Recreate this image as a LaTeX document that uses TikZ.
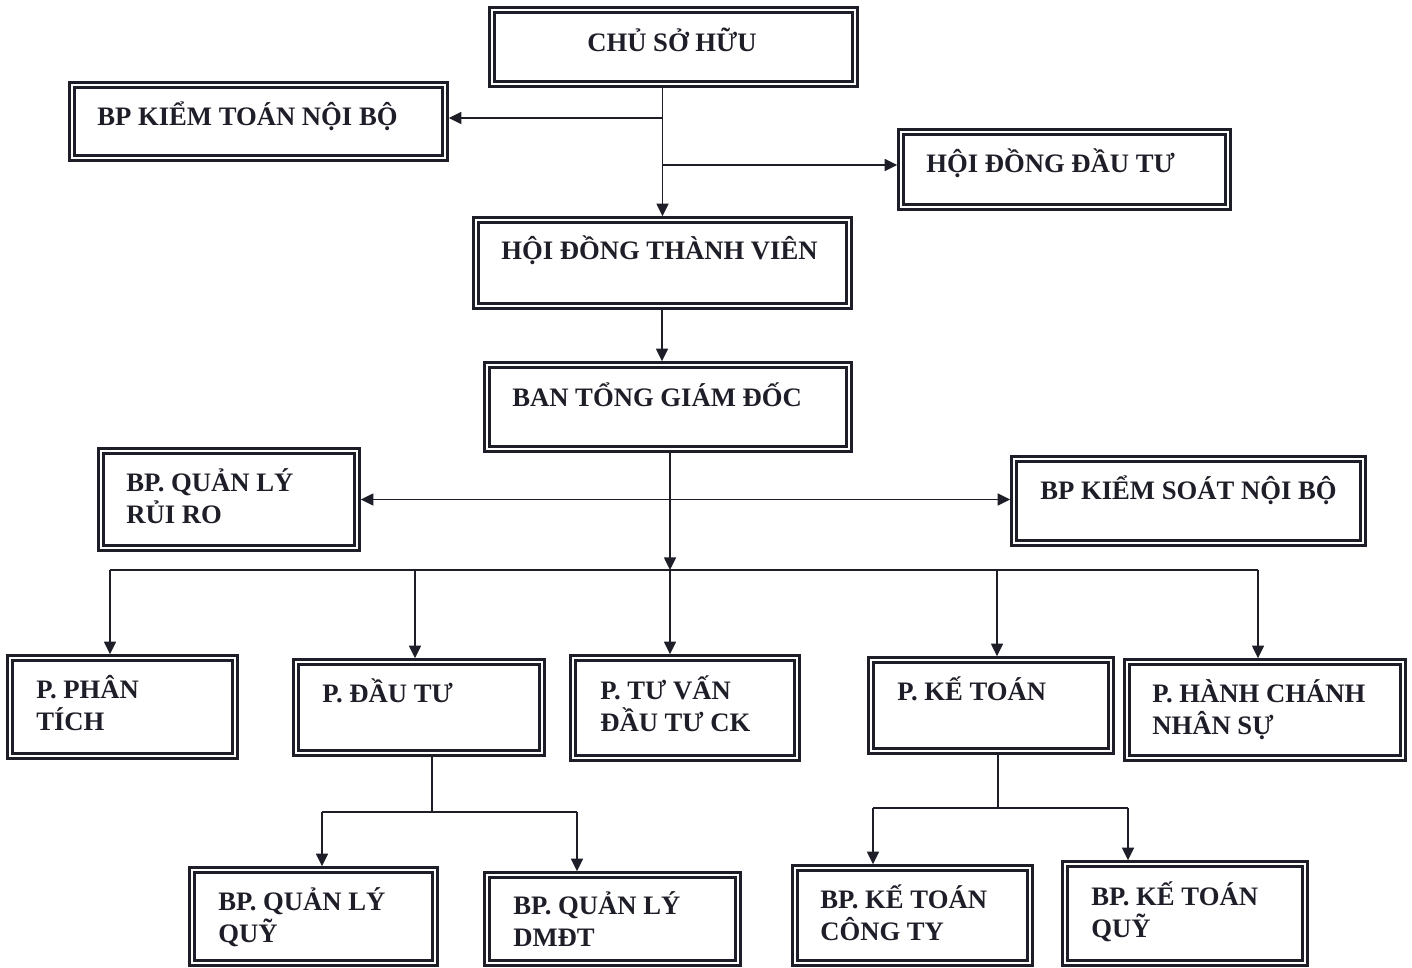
\documentclass[tikz,border=0pt]{standalone}
\usepackage{fontspec}
\setmainfont{Liberation Serif}
\usetikzlibrary{fit,arrows.meta,calc}
\definecolor{ink}{HTML}{1E1E28}
\tikzset{
  box/.style={draw=ink, line width=1.7pt, double=white, double distance=2.2pt, inner sep=0pt, outer sep=2.8pt},
  lbl/.style={text=ink, font=\bfseries\fontsize{20}{23.3}\selectfont, inner sep=0pt, align=left},
  conn/.style={draw=ink, line width=1.1pt},
  arr/.style={conn, -{Triangle[length=9.5pt,width=9pt]}},
  arrb/.style={conn, {Triangle[length=9.5pt,width=9pt]}-{Triangle[length=9.5pt,width=9pt]}}
}
\begin{document}
\begin{tikzpicture}[x=0.75pt,y=-0.75pt]
\useasboundingbox[fill=white] (0,0) rectangle (1412,967);
% boxes
\node[box, fit={(492,10) (855,84)}] (chu) {};
\node[box, fit={(72,85) (445,158)}] (ktnb) {};
\node[box, fit={(901,132) (1228,207)}] (hddt) {};
\node[box, fit={(476,220) (849,306)}] (hdtv) {};
\node[box, fit={(487,365) (849,449)}] (btgd) {};
\node[box, fit={(101,451) (357,548)}] (qlrr) {};
\node[box, fit={(1014,459) (1363,543)}] (ksnb) {};
\node[box, fit={(10,658) (235,756)}] (pt) {};
\node[box, fit={(296,662) (542,753)}] (pdt) {};
\node[box, fit={(573,658) (797,758)}] (tv) {};
\node[box, fit={(871,660) (1111,751)}] (pkt) {};
\node[box, fit={(1127,662) (1403,758)}] (hcns) {};
\node[box, fit={(192,870) (435,963)}] (qlq) {};
\node[box, fit={(487,875) (738,963)}] (dmdt) {};
\node[box, fit={(795,868) (1030,963)}] (ktct) {};
\node[box, fit={(1065,864) (1305,963)}] (ktq) {};
% labels (base anchor = baseline of last line)
\node[lbl, anchor=base] at (672,51) {CHỦ SỞ HỮU};
\node[lbl, anchor=base west] at (97,125) {BP KIỂM TOÁN NỘI BỘ};
\node[lbl, anchor=base west] at (926,172) {HỘI ĐỒNG ĐẦU TƯ};
\node[lbl, anchor=base west] at (501,259) {HỘI ĐỒNG THÀNH VIÊN};
\node[lbl, anchor=base west] at (512,406) {BAN TỔNG GIÁM ĐỐC};
\node[lbl, anchor=base west] at (126,523) {BP. QUẢN LÝ\\RỦI RO};
\node[lbl, anchor=base west] at (1040,499) {BP KIỂM SOÁT NỘI BỘ};
\node[lbl, anchor=base west] at (36,730) {P. PHÂN\\TÍCH};
\node[lbl, anchor=base west] at (322,702) {P. ĐẦU TƯ};
\node[lbl, anchor=base west] at (600,731) {P. TƯ VẤN\\ĐẦU TƯ CK};
\node[lbl, anchor=base west] at (897,700) {P. KẾ TOÁN};
\node[lbl, anchor=base west] at (1152,734) {P. HÀNH CHÁNH\\NHÂN SỰ};
\node[lbl, anchor=base west] at (218,942) {BP. QUẢN LÝ\\QUỸ};
\node[lbl, anchor=base west] at (513,946) {BP. QUẢN LÝ\\DMĐT};
\node[lbl, anchor=base west] at (820,940) {BP. KẾ TOÁN\\CÔNG TY};
\node[lbl, anchor=base west] at (1091,937) {BP. KẾ TOÁN\\QUỸ};
% connectors top
\coordinate (j1) at (662,118);
\coordinate (j2) at (662,165);
\draw[arr] (chu.south -| hdtv.north) -- (hdtv.north);
\draw[arr] (j1) -- (j1 -| ktnb.east);
\draw[arr] (j2) -- (j2 -| hddt.west);
\draw[arr] (hdtv.south -| 662,0) -- (btgd.north -| 662,0);
% from ban TGD
\coordinate (bus) at (670,570);
\draw[arr] (btgd.south -| bus) -- (bus);
\draw[arr] (bus) -- (bus |- tv.north);
\draw[arrb] (qlrr.east) -- (qlrr.east -| ksnb.west);
\coordinate (d1) at (110,570);
\coordinate (d2) at (415,570);
\coordinate (d4) at (997,570);
\coordinate (d5) at (1258,570);
\draw[conn] (d1) -- (d5);
\draw[arr] (d1) -- (d1 |- pt.north);
\draw[arr] (d2) -- (d2 |- pdt.north);
\draw[arr] (d4) -- (d4 |- pkt.north);
\draw[arr] (d5) -- (d5 |- hcns.north);
% P. Dau tu branch
\coordinate (s1) at (432,812);
\coordinate (s1a) at (322,812);
\coordinate (s1b) at (577,812);
\draw[conn] (pdt.south -| s1) -- (s1);
\draw[conn] (s1a) -- (s1b);
\draw[arr] (s1a) -- (s1a |- qlq.north);
\draw[arr] (s1b) -- (s1b |- dmdt.north);
% P. Ke toan branch
\coordinate (s2) at (998,808);
\coordinate (s2a) at (873,808);
\coordinate (s2b) at (1128,808);
\draw[conn] (pkt.south -| s2) -- (s2);
\draw[conn] (s2a) -- (s2b);
\draw[arr] (s2a) -- (s2a |- ktct.north);
\draw[arr] (s2b) -- (s2b |- ktq.north);
\end{tikzpicture}
\end{document}
